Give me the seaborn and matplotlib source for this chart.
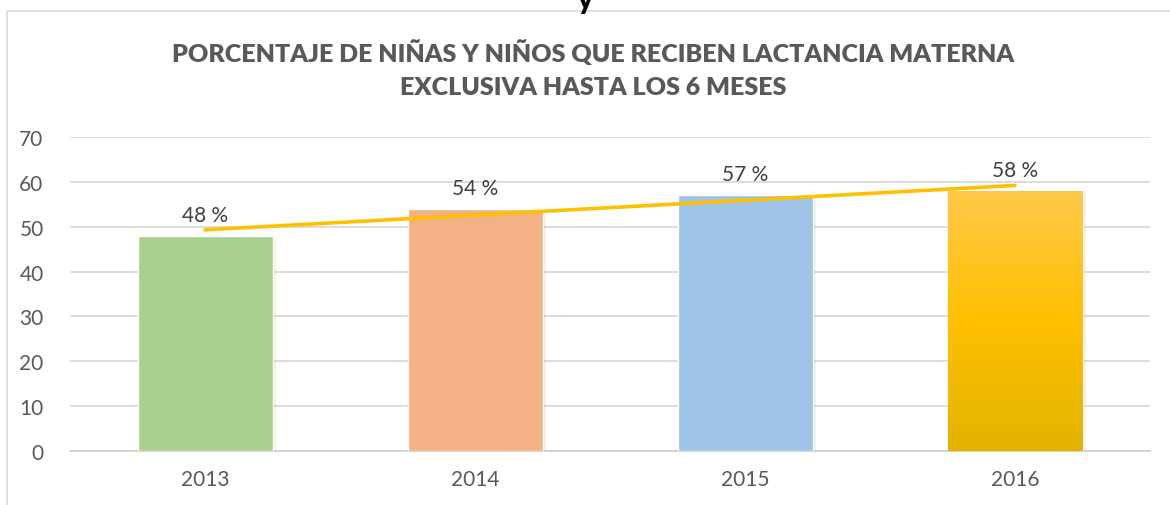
import matplotlib
matplotlib.use('Agg')
import matplotlib.pyplot as plt
import matplotlib.patches as mpatches
from matplotlib.colors import LinearSegmentedColormap
import numpy as np
import pandas as pd
import seaborn as sns

# Chart data
years = ['2013', '2014', '2015', '2016']
porcentajes = [48, 54, 57, 58]
bar_colors = ['#A9D18E', '#F4B183', '#9DC3E6', '#FFC000']
title_lines = ['PORCENTAJE DE NIÑAS Y NIÑOS QUE RECIBEN LACTANCIA MATERNA',
               'EXCLUSIVA HASTA LOS 6 MESES']

sns.set_style('white')
plt.rcParams['font.family'] = ['Lato', 'DejaVu Sans']

df = pd.DataFrame({'year': years, 'pct': porcentajes})

fig = plt.figure(figsize=(11.7, 5.06), dpi=100)
ax = fig.add_axes([70 / 1170, 54 / 506, 1080 / 1170, 314 / 506])

# chart frame (Excel style)
fig.patches.append(mpatches.Rectangle((7 / 1170, -0.1), 1.2, (494 / 506) + 0.1,
                                      transform=fig.transFigure, fill=False,
                                      edgecolor='#D9D9D9', linewidth=1.2))

# cut-off text above frame
fig.text(585 / 1170, 1.0 - 1 / 506, 'y', ha='center', va='center', fontsize=20,
         fontweight='heavy', color='#000000')

sns.barplot(data=df, x='year', y='pct', hue='year', palette=bar_colors,
            width=0.5, legend=False, ax=ax, saturation=1, zorder=3)

# soft shadow + gradient for the gold bar
gold = LinearSegmentedColormap.from_list('gold', ['#E3B300', '#FFC000', '#FFC84A'])
for i, bar in enumerate(ax.patches):
    x0, w, h = bar.get_x(), bar.get_width(), bar.get_height()
    for k, a in enumerate([0.07, 0.05, 0.04]):
        ax.add_patch(mpatches.Rectangle((x0 + 0.004 * (k + 1), -0.25 * (k + 1)), w, h,
                                        facecolor='#000000', alpha=a,
                                        linewidth=0, zorder=2))
    if i == 3:
        grad = np.linspace(0, 1, 256).reshape(-1, 1)
        im = ax.imshow(grad, cmap=gold, origin='lower', aspect='auto',
                       extent=(x0, x0 + w, 0, h), zorder=4)
        im.set_clip_path(bar)
    ax.annotate(f'{porcentajes[i]} %', (bar.get_x() + w / 2, h),
                xytext=(0, 8), textcoords='offset points', ha='center',
                va='bottom', fontsize=15, color='#404040', zorder=6)

# linear trendline
xs = np.arange(len(porcentajes))
slope, intercept = np.polyfit(xs, porcentajes, 1)
ax.plot(xs, slope * xs + intercept, color='#FFC000', linewidth=2.6,
        solid_capstyle='round', zorder=5)

ax.set_xlim(-0.5, 3.5)
ax.set_ylim(0, 70)
ax.set_yticks(range(0, 71, 10))
ax.yaxis.grid(True, color='#D9D9D9', linewidth=1.3, zorder=0)
ax.set_axisbelow(True)
for s in ['top', 'right', 'left']:
    ax.spines[s].set_visible(False)
ax.spines['bottom'].set_color('#D0D0D0')
ax.spines['bottom'].set_linewidth(1.3)
ax.spines['bottom'].set_zorder(1)
ax.tick_params(axis='both', length=0, labelsize=15, labelcolor='#595959')
ax.tick_params(axis='x', pad=13)
ax.tick_params(axis='y', pad=19)
ax.set_xlabel('')
ax.set_ylabel('')

fig.text(593 / 1170, 1 - 53 / 506, title_lines[0], ha='center', va='center',
         fontsize=18, fontweight='heavy', color='#595959')
fig.text(593 / 1170, 1 - 88 / 506, title_lines[1], ha='center', va='center',
         fontsize=18, fontweight='heavy', color='#595959')

fig.savefig('out.png', dpi=100)
